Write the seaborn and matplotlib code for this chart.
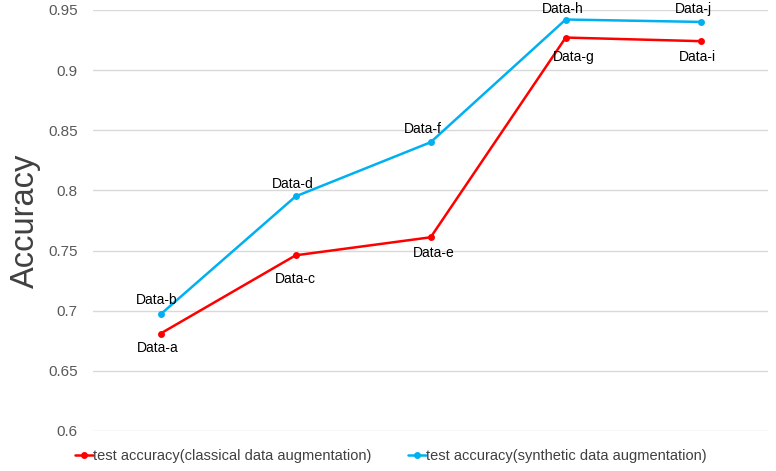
import matplotlib
matplotlib.use("Agg")
import matplotlib.pyplot as plt
import seaborn as sns
import pandas as pd

stages = [0, 1, 2, 3, 4]
classical = [0.681, 0.746, 0.761, 0.927, 0.924]
synthetic = [0.697, 0.795, 0.840, 0.942, 0.940]
classical_labels = ["Data-a", "Data-c", "Data-e", "Data-g", "Data-i"]
synthetic_labels = ["Data-b", "Data-d", "Data-f", "Data-h", "Data-j"]
series_names = ["test accuracy(classical data augmentation)",
                "test accuracy(synthetic data augmentation)"]
yticks = [0.6, 0.65, 0.7, 0.75, 0.8, 0.85, 0.9, 0.95]
ytick_labels = ["0.6", "0.65", "0.7", "0.75", "0.8", "0.85", "0.9", "0.95"]

df = pd.DataFrame({
    "stage": stages + stages,
    "acc": classical + synthetic,
    "series": [series_names[0]] * len(stages) + [series_names[1]] * len(stages),
})

sns.set_theme(style="white")
plt.rcParams['font.family'] = ['Liberation Sans', 'DejaVu Sans']

fig = plt.figure(figsize=(7.76, 4.71), dpi=100)
ax = fig.add_axes([0.12, 0.085, 0.87, 0.894])

colors = {series_names[0]: "#FF0000", series_names[1]: "#00B0F0"}
sns.lineplot(data=df, x="stage", y="acc", hue="series", palette=colors,
             marker="o", markersize=5, markeredgewidth=0, linewidth=1.8,
             ax=ax, legend=True)

ax.set_xlim(-0.5, 4.5)
ax.set_ylim(0.6, 0.95)
ax.set_yticks(yticks)
ax.set_yticklabels(ytick_labels)
ax.set_xticks([])
ax.set_xlabel("")
ax.set_ylabel("Accuracy", fontsize=23.5, color="#404040")
ax.yaxis.set_label_coords(-0.077, 0.5)
ax.tick_params(axis="y", length=0, labelsize=11, labelcolor="#595959", pad=11)
ax.yaxis.grid(True, color="#D9D9D9", linewidth=1)
ax.set_axisbelow(True)
for s in ax.spines.values():
    s.set_visible(False)
for line in ax.lines:
    line.set_clip_on(False)

c_off = [-14, -24, -16, -19, -16]
s_off = [14, 12, 13, 11, 13]
c_dx = [-3, 0, 3, 8, -3]
s_dx = [-4, -3, -8, -3, -7]
for x, y, t, dx, dy in zip(stages, classical, classical_labels, c_dx, c_off):
    ax.annotate(t, (x, y), xytext=(dx * 0.72, dy * 0.72), textcoords="offset points",
                ha="center", va="center", fontsize=10, color="black")
for x, y, t, dx, dy in zip(stages, synthetic, synthetic_labels, s_dx, s_off):
    ax.annotate(t, (x, y), xytext=(dx * 0.72, dy * 0.72), textcoords="offset points",
                ha="center", va="center", fontsize=10, color="black", annotation_clip=False)

handles, labels = ax.get_legend_handles_labels()
ax.get_legend().remove()
fig.legend(handles, labels, loc="center left", bbox_to_anchor=(0.080, 0.031),
           ncol=2, frameon=False, fontsize=10.5, handlelength=1.23, handletextpad=0.0,
           columnspacing=2.5, labelcolor="#404040")

fig.savefig("out.png", dpi=100)
